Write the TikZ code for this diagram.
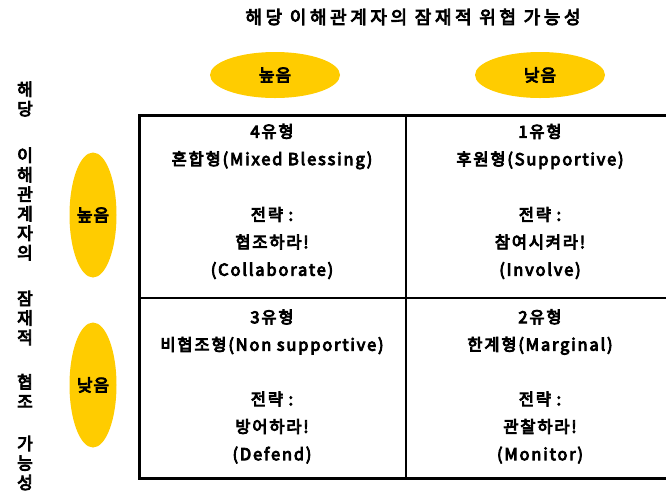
\documentclass[tikz,border=0pt]{standalone}
\usepackage{fontspec}
\setmainfont{Noto Sans CJK KR}
\newfontfamily\cellfont{Noto Sans CJK KR}[LetterSpace=11]
\newfontfamily\titlefont{Noto Sans CJK KR}[LetterSpace=20]
\newfontfamily\ovalfont{Noto Sans CJK KR}[LetterSpace=6]
\newfontfamily\vfont{Noto Sans CJK KR}
\usetikzlibrary{shapes.geometric}
\definecolor{gold}{HTML}{FFCC00}
\newcommand\heavyon{\special{pdf:literal direct 2 Tr 0.85 w}}
\newcommand\heavyoff{\special{pdf:literal direct 0 Tr}}
\tikzset{
  heavy/.style={execute at begin node=\heavyon, execute at end node=\heavyoff},
  oval/.style={ellipse, fill=gold, draw=none, inner sep=0pt, heavy, font=\ovalfont\fontsize{17}{18}\selectfont},
  hoval/.style={oval, minimum width=130, minimum height=46},
  voval/.style={oval, minimum width=47, minimum height=125},
  celltext/.style={align=center, inner sep=0pt, heavy, font=\cellfont\fontsize{16.5}{27.5}\selectfont},
  vtext/.style={align=center, inner sep=0pt, heavy, font=\vfont\fontsize{17}{19.5}\selectfont},
  titletext/.style={inner sep=0pt, heavy, font=\titlefont\fontsize{18}{18}\selectfont},
  thick border/.style={line width=3pt},
  thin line/.style={line width=1.5pt}
}
\begin{document}
\begin{tikzpicture}[x=1pt,y=-1pt]
\useasboundingbox (0,0) rectangle (666,491);
% title
\node[titletext] (title) at (413,17) {해당 이해관계자의 잠재적 위협 가능성};
% top ovals
\node[hoval] (th) at (275,75) {높음};
\node[hoval] (tl) at (540,75) {낮음};
% left ovals
\node[voval] (lh) at (93,215) {높음};
\node[voval] (ll) at (93,385) {낮음};
% left vertical label
\node[vtext] (v1) at (25,99) {해\\당};
\node[vtext] (v2) at (25,204) {이\\해\\관\\계\\자\\의};
\node[vtext] (v3) at (25,318) {잠\\재\\적};
\node[vtext] (v4) at (25,391) {협\\조};
\node[vtext] (v5) at (25,463) {가\\능\\성};
% grid
\coordinate (tlc) at (139,115);
\coordinate (brc) at (690,478);
\coordinate (mt) at (406,115);
\coordinate (mb) at (406,478);
\coordinate (ml) at (139,298);
\coordinate (mr) at (690,298);
\draw[thin line] (mt) -- (mb);
\draw[thin line] (ml) -- (mr);
\draw[thick border] (tlc) rectangle (brc);
% cells
\node[celltext] (h4) at (272,146.5) {4유형\\혼합형(Mixed Blessing)};
\node[celltext] (s4) at (272,243) {전략 :\\협조하라!\\(Collaborate)};
\node[celltext] (h1) at (540,146.5) {1유형\\후원형(Supportive)};
\node[celltext] (s1) at (540,243) {전략 :\\참여시켜라!\\(Involve)};
\node[celltext] (h3) at (272,332) {3유형\\비협조형(Non supportive)};
\node[celltext] (s3) at (272,427.5) {전략 :\\방어하라!\\(Defend)};
\node[celltext] (h2) at (540,332) {2유형\\한계형(Marginal)};
\node[celltext] (s2) at (540,427.5) {전략 :\\관찰하라!\\(Monitor)};
\end{tikzpicture}
\end{document}
